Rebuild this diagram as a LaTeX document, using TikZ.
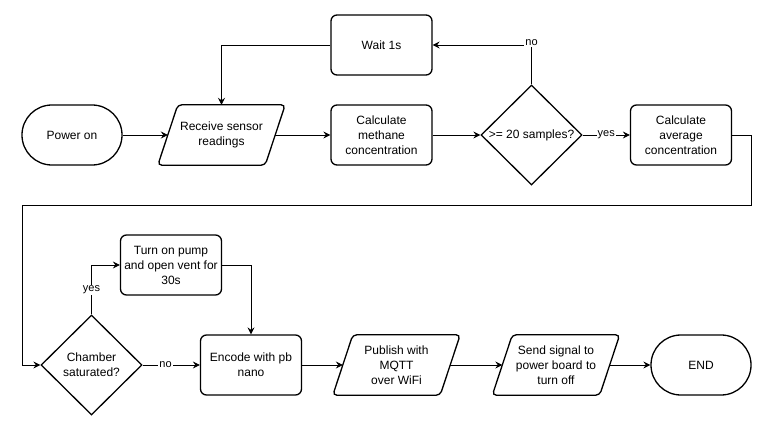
\documentclass[tikz,border=0pt]{standalone}
\usepackage{fontspec}
\setmainfont{Liberation Sans}
\usetikzlibrary{arrows.meta,shapes.geometric,calc}
\begin{document}
\begin{tikzpicture}[x=1pt,y=-1pt,
  every node/.style={font=\fontsize{12}{15}\selectfont},
  shapeline/.style={line width=1.3pt},
  box/.style={draw, shapeline, rounded corners=6pt, minimum width=101pt, minimum height=60pt, align=center, inner sep=0pt},
  term/.style={draw, shapeline, rounded corners=29.9pt, minimum width=100pt, minimum height=60pt, align=center, inner sep=0pt},
  paratext/.style={minimum width=127pt, minimum height=60pt, align=center, inner sep=0pt},
  dia/.style={draw, shapeline, diamond, minimum width=101pt, minimum height=100pt, inner sep=0pt},
  arr/.style={line width=0.8pt, -{Stealth[length=7pt,width=7pt,inset=2.5pt]}},
  conn/.style={line width=0.8pt},
  elabel/.style={fill=white, inner sep=1pt, font=\fontsize{11}{13}\selectfont}
]
\useasboundingbox (0,0) rectangle (767,422);

% top row
\node[term] (pwr) at (72,135) {Power on};
\node[paratext] (rs) at (221.5,135) {Receive sensor\\readings};
\node[box] (meth) at (381.5,135) {Calculate\\methane\\concentration};
\node[box] (wait) at (381.5,45) {Wait 1s};
\node[dia] (d1) at (531.5,135) {};
\node at (d1) {>= 20 samples?};
\node[box] (avg) at (681,135) {Calculate\\average\\concentration};

% bottom row
\node[dia] (ch) at (91.5,365) {};
\node[align=center] at (ch) {Chamber\\saturated?};
\node[box] (pump) at (171,265) {Turn on pump\\and open vent for\\30s};
\node[box] (enc) at (251,365) {Encode with pb\\nano};
\node[paratext] (pub) at (396.5,365) {Publish with\\MQTT\\over WiFi};
\node[paratext] (sig) at (556,365) {Send signal to\\power board to\\turn off};
\node[term] (end) at (701,365) {END};

% parallelogram outlines
\foreach \n in {rs,pub,sig}{
  \draw[shapeline, rounded corners=4pt] (\n.south west) -- ([xshift=20pt]\n.north west) -- (\n.north east) -- ([xshift=-20pt]\n.south east) -- cycle;
  \coordinate (\n-w) at ([xshift=10pt]\n.west);
  \coordinate (\n-e) at ([xshift=-10pt]\n.east);
}

% connectors top
\draw[arr] (pwr.east) -- (rs-w);
\draw[arr] (rs-e) -- (meth.west);
\draw[arr] (meth.west -| rs-e) ++(0,0) (meth.east) -- (d1.west);
\draw[arr] (wait.west) -| (rs.north);
\coordinate (cno) at (d1.north |- wait.east);
\draw[arr] (d1.north) -- (cno) -- (wait.east);
\node[elabel] at ([yshift=2pt]cno) {no};
\draw[arr] (d1.east) -- node[elabel, pos=0.5] {yes} (avg.west);

% loop to second row
\coordinate (c1) at (751,205);
\coordinate (c2) at (22,205);
\draw[arr] (avg.east) -| (c1) -- (c2) |- (ch.west);

% connectors bottom
\coordinate (cyes) at (ch.north |- pump.west);
\draw[arr] (ch.north) -- node[elabel] {yes} (cyes) -- (pump.west);
\draw[arr] (ch.east) -- node[elabel, pos=0.4] {no} (enc.west);
\draw[arr] (pump.east) -| (enc.north);
\draw[arr] (enc.east) -- (pub-w);
\draw[arr] (pub-e) -- (sig-w);
\draw[arr] (sig-e) -- (end.west);
\end{tikzpicture}
\end{document}
